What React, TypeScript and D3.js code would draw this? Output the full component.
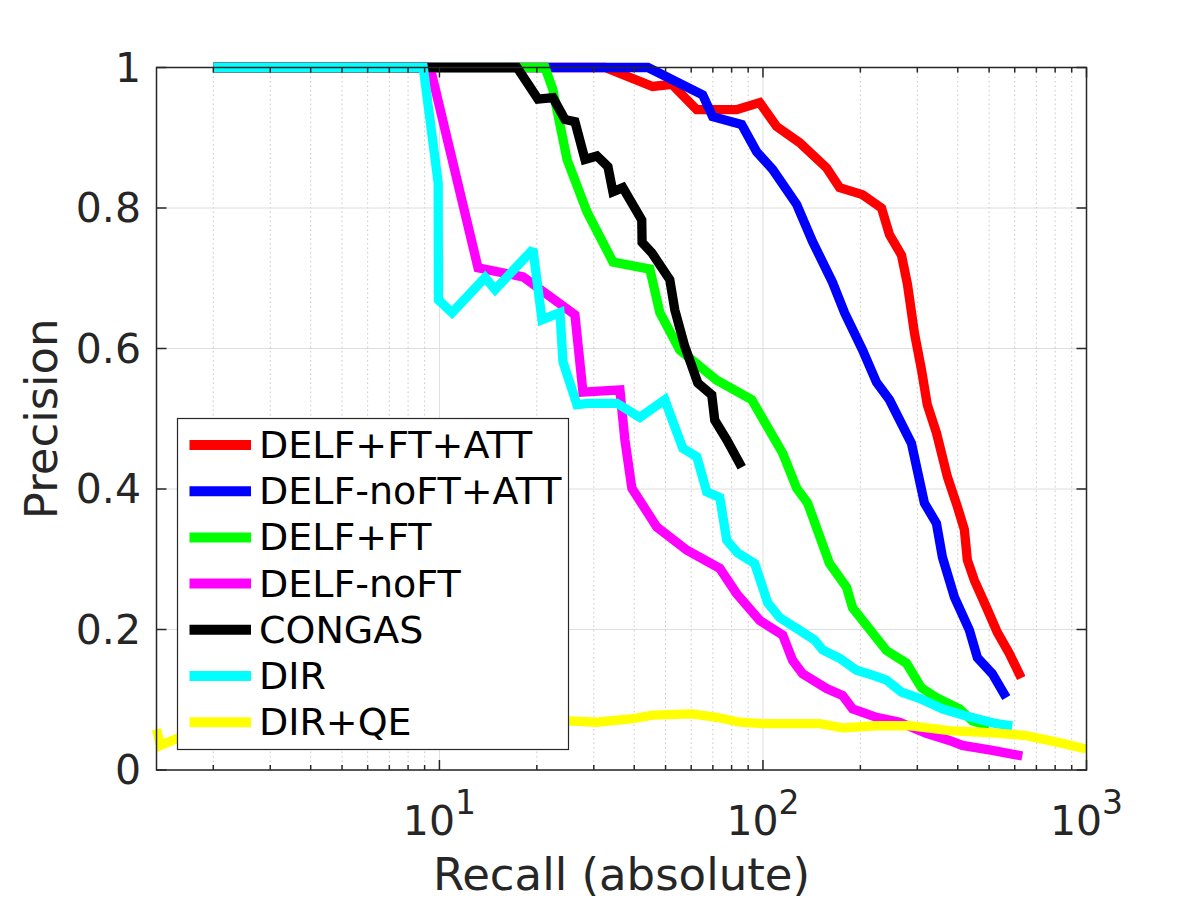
import React from 'react';
import * as d3 from 'd3';

const seriesNames = ['DELF+FT+ATT', 'DELF-noFT+ATT', 'DELF+FT', 'DELF-noFT', 'CONGAS', 'DIR', 'DIR+QE'];
const seriesColors = ['#ff0000', '#0000ff', '#00ff00', '#ff00ff', '#000000', '#00ffff', '#ffff00'];

const redRecall = [2, 32.5, 45.6, 52.3, 62.4, 82.9, 97.7, 110.2, 129.8, 157.3, 172.5, 203.1, 232.5, 246.0, 268.0, 279.7, 293.9, 308.9, 322, 343.7, 371.7, 398.9, 419.3, 428.3, 450.2, 490.1, 530.1, 577.3, 628.6];
const redPrecision = [1, 1, 0.973, 0.976, 0.940, 0.940, 0.950, 0.916, 0.893, 0.857, 0.829, 0.819, 0.800, 0.762, 0.733, 0.691, 0.622, 0.570, 0.520, 0.480, 0.417, 0.375, 0.342, 0.299, 0.270, 0.232, 0.196, 0.166, 0.131];

const blueRecall = [2, 44.1, 65.1, 69.9, 85.9, 95.6, 107.1, 127.1, 142.4, 164.1, 178.7, 203.1, 224.3, 246.0, 287.7, 315.5, 343.7, 358.6, 390.6, 434.5, 459.9, 511.6, 565.1];
const bluePrecision = [1, 1, 0.961, 0.930, 0.919, 0.880, 0.855, 0.805, 0.752, 0.694, 0.651, 0.598, 0.552, 0.527, 0.465, 0.380, 0.351, 0.303, 0.246, 0.199, 0.160, 0.137, 0.103];

const greenRecall = [2, 21.2, 22.4, 24.8, 28.6, 34.4, 44.7, 48.0, 55.3, 71.9, 92.3, 115.1, 127.1, 137.4, 160.6, 181.3, 189.2, 240.9, 277.7, 308.9, 343.7, 404.7, 443.9, 500.8];
const greenPrecision = [1, 1, 0.969, 0.869, 0.794, 0.723, 0.713, 0.651, 0.598, 0.555, 0.527, 0.451, 0.401, 0.380, 0.294, 0.260, 0.231, 0.170, 0.152, 0.117, 0.103, 0.087, 0.070, 0.063];

const magentaRecall = [2, 9.36, 13.16, 18.13, 26.23, 27.77, 36.13, 37.43, 39.34, 46.97, 58.14, 73.53, 82.93, 97.68, 115.1, 123.5, 132.6, 157.3, 176.2, 189.2, 224.3, 264.2, 320.1, 376.9, 413.4, 511.6, 633.1];
const magentaPrecision = [1, 1, 0.715, 0.702, 0.648, 0.538, 0.541, 0.470, 0.401, 0.346, 0.313, 0.287, 0.251, 0.213, 0.192, 0.156, 0.137, 0.116, 0.106, 0.087, 0.075, 0.068, 0.052, 0.042, 0.035, 0.028, 0.020];

const blackRecall = [2, 17.37, 20.17, 22.43, 24.43, 26.23, 28.17, 30.67, 33.17, 34.37, 36.89, 42.2, 42.3, 45.35, 51.52, 53.39, 57.32, 62.89, 69.46, 70.95, 77.27, 85.98];
const blackPrecision = [1, 1, 0.955, 0.957, 0.926, 0.923, 0.869, 0.874, 0.859, 0.823, 0.829, 0.783, 0.751, 0.736, 0.698, 0.655, 0.603, 0.551, 0.534, 0.498, 0.470, 0.431];

const cyanRecall = [2, 8.91, 9.91, 9.93, 10.94, 13.84, 14.86, 19.46, 20.75, 23.58, 24.09, 26.61, 28.77, 35.38, 41.64, 49.74, 56.52, 62.44, 67.01, 73.53, 77.27, 83.54, 94.28, 103.4, 112.6, 129.8, 144.4, 152.9, 172.5, 194.6, 218.1, 240.9, 268.0, 304.5, 358.6, 425.3, 526.4, 589.9];
const cyanPrecision = [1, 1, 0.836, 0.669, 0.651, 0.701, 0.684, 0.741, 0.641, 0.651, 0.581, 0.520, 0.522, 0.522, 0.502, 0.527, 0.458, 0.446, 0.396, 0.388, 0.327, 0.309, 0.294, 0.238, 0.217, 0.199, 0.185, 0.171, 0.159, 0.142, 0.135, 0.128, 0.111, 0.102, 0.087, 0.077, 0.066, 0.063];

const yellowRecall = [1.335, 1.374, 1.548, 5, 12, 24.9, 30.7, 39.6, 45.6, 60.3, 71.9, 84.7, 99.8, 149.6, 176.2, 224.4, 283.7, 376.9, 511.6, 651.5, 823.9, 998];
const yellowPrecision = [0.058, 0.035, 0.045, 0.058, 0.065, 0.070, 0.068, 0.073, 0.078, 0.080, 0.075, 0.068, 0.066, 0.066, 0.060, 0.063, 0.063, 0.056, 0.053, 0.049, 0.039, 0.030];

const allRecall = [redRecall, blueRecall, greenRecall, magentaRecall, blackRecall, cyanRecall, yellowRecall];
const allPrecision = [redPrecision, bluePrecision, greenPrecision, magentaPrecision, blackPrecision, cyanPrecision, yellowPrecision];

const xMajorTicks = [10, 100, 1000];
const xMajorExponents = ['1', '2', '3'];
const yTicks = [0, 0.2, 0.4, 0.6, 0.8, 1];
const yTickLabels = ['0', '0.2', '0.4', '0.6', '0.8', '1'];

const W = 1200, H = 900;
const left = 156.5, right = 1086.5, top = 67.5, bottom = 770;
const axisColor = '#262626';
const FONT = 'DejaVu Sans, sans-serif';

export default function App() {
  const x = d3.scaleLog().domain([1.335, 1000]).range([left, right]);
  const y = d3.scaleLinear().domain([0, 1]).range([bottom, top]);

  const minorX: number[] = [];
  for (const dec of [1, 10, 100]) {
    for (let k = 1; k <= 9; k++) {
      const v = dec * k;
      if (v >= 1.335 && v < 1000 && !xMajorTicks.includes(v)) minorX.push(v);
    }
  }

  const line = d3.line<[number, number]>().x(d => x(d[0])).y(d => y(d[1]));

  const legendX = 177.5, legendY = 418.5, legendW = 391, legendH = 331;
  const rowY0 = 445, rowStep = 46.2;

  return (
    <svg width={W} height={H} style={{ position: 'absolute', left: 0, top: 0, background: '#fff' }} fontFamily={FONT}>
      <rect x={0} y={0} width={W} height={H} fill="#fff" />
      {minorX.map((v, i) => (
        <line key={'mg' + i} x1={x(v)} x2={x(v)} y1={top} y2={bottom} stroke="#c8c8c8" strokeWidth={1} strokeDasharray="1.5 3" />
      ))}
      {xMajorTicks.map((v, i) => (
        <line key={'xg' + i} x1={x(v)} x2={x(v)} y1={top} y2={bottom} stroke="#dedede" strokeWidth={1} />
      ))}
      {yTicks.map((v, i) => (
        <line key={'yg' + i} x1={left} x2={right} y1={y(v)} y2={y(v)} stroke="#dedede" strokeWidth={1} />
      ))}
      {allRecall.map((rs, si) => {
        const pts: [number, number][] = rs.map((r, j) => [r, allPrecision[si][j]]);
        return (
          <path key={'s' + si} d={line(pts) || ''} fill="none" stroke={seriesColors[si]} strokeWidth={9.3}
            strokeLinejoin="miter" strokeMiterlimit={2} strokeLinecap="butt" />
        );
      })}
      <rect x={left} y={top} width={right - left} height={bottom - top} fill="none" stroke={axisColor} strokeWidth={1.5} />
      {xMajorTicks.map((v, i) => (
        <g key={'xt' + i}>
          <line x1={x(v)} x2={x(v)} y1={bottom} y2={bottom - 10} stroke={axisColor} strokeWidth={1.5} />
          <line x1={x(v)} x2={x(v)} y1={top} y2={top + 10} stroke={axisColor} strokeWidth={1.5} />
          <text x={x(v)} y={835} textAnchor="middle" fill={axisColor} fontSize={41}>
            10<tspan fontSize={33} dy={-21}>{xMajorExponents[i]}</tspan>
          </text>
        </g>
      ))}
      {minorX.map((v, i) => (
        <g key={'xm' + i}>
          <line x1={x(v)} x2={x(v)} y1={bottom} y2={bottom - 5} stroke={axisColor} strokeWidth={1.5} />
          <line x1={x(v)} x2={x(v)} y1={top} y2={top + 5} stroke={axisColor} strokeWidth={1.5} />
        </g>
      ))}
      {yTicks.map((v, i) => (
        <g key={'yt' + i}>
          <line x1={left} x2={left + 10} y1={y(v)} y2={y(v)} stroke={axisColor} strokeWidth={1.5} />
          <line x1={right} x2={right - 10} y1={y(v)} y2={y(v)} stroke={axisColor} strokeWidth={1.5} />
          <text x={141} y={y(v)} textAnchor="end" dominantBaseline="central" fill={axisColor} fontSize={41}>
            {yTickLabels[i]}
          </text>
        </g>
      ))}
      <text x={(left + right) / 2} y={890} textAnchor="middle" fill={axisColor} fontSize={45}>Recall (absolute)</text>
      <text transform={`translate(57, ${(top + bottom) / 2}) rotate(-90)`} textAnchor="middle" fill={axisColor} fontSize={45}>Precision</text>
      <rect x={legendX} y={legendY} width={legendW} height={legendH} fill="#fff" stroke={axisColor} strokeWidth={1.2} />
      {seriesNames.map((name, i) => {
        const cy = rowY0 + i * rowStep;
        return (
          <g key={'lg' + i}>
            <line x1={189.5} x2={251} y1={cy} y2={cy} stroke={seriesColors[i]} strokeWidth={10} />
            <text x={259} y={cy} dominantBaseline="central" fill="#000" fontSize={38}>{name}</text>
          </g>
        );
      })}
    </svg>
  );
}
